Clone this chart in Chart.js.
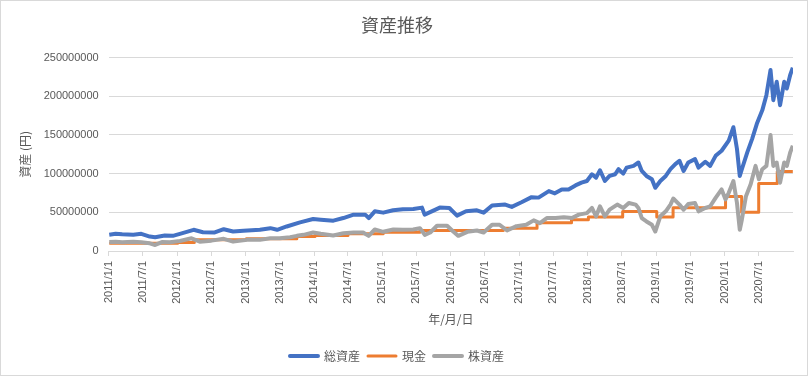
<!DOCTYPE html>
<html>
<head>
<meta charset="utf-8">
<script src="https://cdn.jsdelivr.net/npm/chart.js@4/dist/chart.umd.min.js"></script>
<style>
html, body { margin: 0; padding: 0; background: #fff; }
#wrap { width: 808px; height: 376px; box-sizing: border-box; border: 1px solid #D9D9D9; }
</style>
</head>
<body>
<div id="wrap"><canvas id="assetChart" width="806" height="374"></canvas></div>
<script>
// values are in millions of yen (百万円)
const totalDates = ['2011-01-04','2011-02-07','2011-03-14','2011-05-12','2011-06-24','2011-08-08','2011-09-06','2011-10-27','2011-12-09','2012-01-16','2012-03-29','2012-05-18','2012-07-20','2012-09-06','2012-10-26','2012-12-20','2013-03-18','2013-05-13','2013-06-18','2013-08-08','2013-10-18','2013-12-27','2014-02-06','2014-04-14','2014-06-06','2014-07-31','2014-10-01','2014-10-20','2014-11-21','2015-01-05','2015-02-27','2015-04-20','2015-06-15','2015-07-31','2015-08-14','2015-09-21','2015-11-03','2015-12-24','2016-02-03','2016-03-22','2016-05-19','2016-06-24','2016-08-08','2016-10-17','2016-11-21','2017-01-12','2017-03-07','2017-04-13','2017-06-07','2017-07-09','2017-08-15','2017-09-20','2017-10-27','2017-11-28','2017-12-27','2018-01-23','2018-02-14','2018-03-07','2018-04-02','2018-04-27','2018-05-27','2018-06-14','2018-07-09','2018-07-27','2018-09-02','2018-09-28','2018-10-16','2018-11-10','2018-12-09','2018-12-27','2019-01-23','2019-02-21','2019-03-18','2019-04-13','2019-05-05','2019-05-27','2019-06-21','2019-07-27','2019-08-15','2019-09-20','2019-10-16','2019-11-14','2019-12-16','2020-01-23','2020-02-17','2020-03-07','2020-03-22','2020-04-02','2020-05-01','2020-05-27','2020-06-21','2020-07-20','2020-08-11','2020-09-02','2020-09-17','2020-10-05','2020-10-23','2020-11-14','2020-11-28','2020-12-16','2020-12-30'];
const totalValues = [21,22.2,21.5,21,22.2,18.7,17.8,20,19.6,22.2,27.4,24.3,24,28.2,25.2,26.1,27.4,29.5,27.4,31.7,37,41.3,40.4,39.2,42.6,47,47,42.6,51.3,49.6,52.6,53.9,54.3,56.1,47,51.3,56.1,55.6,45.7,51.3,52.6,49.6,58.7,60,57,63,69.6,69,77.4,74.5,79.5,79.6,84.8,88.3,90.5,99.2,94.8,104.4,90.5,97,99.2,105.7,100,107.8,110,114.4,103.5,97,92.7,81.7,90.5,97,105.7,112.3,116.6,103.5,114.4,118.8,107.8,115.3,110,123,129.6,142.7,160,131.8,97,105.7,127.4,145,164.4,181.8,201.4,234,195,218.8,188.4,218.8,210,227.5,237];

const cashDates = ['2011-01-04','2012-01-04','2012-04-02','2013-01-04','2013-10-01','2014-01-06','2014-07-01','2015-01-05','2015-07-20','2016-10-07','2017-04-05','2017-10-06','2018-01-04','2018-07-06','2019-01-04','2019-04-01','2020-01-06','2020-04-01','2020-07-01','2020-10-08','2020-12-30'];
const cashValues = [10,11,14.4,15.7,18.7,20,22.2,24.3,26.5,29.5,36.5,40.4,43.8,51,43.9,56,70.5,50.2,87.3,102.8,102.8];

const stockDates = ['2011-01-04','2011-02-07','2011-03-14','2011-05-12','2011-06-24','2011-08-08','2011-09-06','2011-10-12','2011-11-24','2012-01-16','2012-03-18','2012-05-01','2012-07-02','2012-09-06','2012-10-26','2013-01-09','2013-03-18','2013-05-12','2013-07-02','2013-08-26','2013-10-01','2013-11-06','2013-12-27','2014-02-06','2014-04-13','2014-06-07','2014-07-31','2014-09-20','2014-10-19','2014-11-21','2015-01-05','2015-02-28','2015-04-20','2015-06-14','2015-07-20','2015-08-15','2015-09-13','2015-10-19','2015-12-12','2016-01-15','2016-02-10','2016-03-29','2016-05-19','2016-06-24','2016-08-08','2016-09-17','2016-10-27','2016-12-16','2017-02-06','2017-03-18','2017-04-20','2017-05-27','2017-07-13','2017-08-26','2017-10-08','2017-11-14','2017-12-27','2018-01-23','2018-02-14','2018-03-07','2018-04-02','2018-04-27','2018-06-07','2018-07-09','2018-08-08','2018-09-13','2018-09-28','2018-10-16','2018-11-10','2018-12-09','2018-12-27','2019-01-23','2019-02-21','2019-03-18','2019-04-02','2019-05-05','2019-05-27','2019-06-21','2019-07-27','2019-08-15','2019-09-20','2019-10-16','2019-11-14','2019-12-16','2020-01-06','2020-01-23','2020-02-17','2020-03-07','2020-03-22','2020-04-02','2020-04-24','2020-05-19','2020-06-14','2020-07-02','2020-07-20','2020-08-11','2020-09-02','2020-09-17','2020-10-05','2020-10-23','2020-11-14','2020-11-28','2020-12-16','2020-12-30'];
const stockValues = [11.7,12,11.2,12,11.2,9.9,7.8,11.5,11.2,13,16.4,12.1,13.4,15.7,12.1,14.4,14.4,16.4,16.4,17.8,19.6,20.9,23.9,22.2,20,23,23.9,23.9,19.6,27.8,24.8,27.8,27.4,27.8,29.5,20.9,23.9,32.6,32.6,24.8,19.6,24.8,26.5,23.9,33.9,33.9,26.5,32.1,33.9,39.6,36,42.6,42.6,43.5,42.6,47,49,55.6,44.8,57.8,44.8,53.5,60,55.6,62.1,60,55.6,42.6,38.2,33.9,25.2,44.8,51.3,60,67.9,60,53.5,60.8,62.1,51.3,55.6,57.8,68.7,79.6,66.6,75.2,90.5,62.1,27.4,40.4,70.9,86.2,110,92.7,105.7,110,150,110,114.4,88.3,114.4,110,127.4,136];

const tickLabels = ['2011/1/1','2011/7/1','2012/1/1','2012/7/1','2013/1/1','2013/7/1','2014/1/1','2014/7/1','2015/1/1','2015/7/1','2016/1/1','2016/7/1','2017/1/1','2017/7/1','2018/1/1','2018/7/1','2019/1/1','2019/7/1','2020/1/1','2020/7/1'];

const seriesNames = ['総資産', '現金', '株資産'];

function toTime(s) {
	let p = s.split(/[-\/]/).map(Number);
	return Date.UTC(p[0], p[1] - 1, p[2]);
}

function points(dates, values) {
	return dates.map((d, i) => ({x: toTime(d), y: values[i] * 1e6}));
}

const textColor = '#595959';
const gridColor = '#D9D9D9';
const numFont = '"Liberation Sans", "Noto Sans CJK JP", sans-serif';
const jpFont = '"Noto Sans CJK JP", "Liberation Sans", sans-serif';

// drawn in reverse order so grey sits on top, legend reversed back
let datasets = [
	{label: seriesNames[2], data: points(stockDates, stockValues), borderColor: '#A5A5A5', backgroundColor: '#A5A5A5', borderWidth: 4},
	{label: seriesNames[1], data: points(cashDates, cashValues), borderColor: '#ED7D31', backgroundColor: '#ED7D31', borderWidth: 3, stepped: true},
	{label: seriesNames[0], data: points(totalDates, totalValues), borderColor: '#4472C4', backgroundColor: '#4472C4', borderWidth: 4}
];
datasets.forEach(d => { d.pointRadius = 0; d.tension = 0; d.fill = false; d.borderJoinStyle = 'round'; });

let ctx = document.querySelector('#assetChart').getContext('2d');
new Chart(ctx, {
	type: 'line',
	data: {datasets: datasets},
	options: {
		responsive: false,
		animation: false,
		layout: {padding: {left: 0, right: 14, top: 0, bottom: 3}},
		plugins: {
			title: {
				display: true,
				text: '資産推移',
				color: textColor,
				font: {family: jpFont, size: 18, weight: 'normal'},
				padding: {top: 13, bottom: 22}
			},
			legend: {
				position: 'bottom',
				reverse: true,
				labels: {
					boxWidth: 28,
					boxHeight: 0,
					padding: 8,
					color: textColor,
					font: {family: jpFont, size: 12}
				}
			},
			tooltip: {enabled: false}
		},
		scales: {
			x: {
				type: 'linear',
				min: toTime('2011/1/1'),
				max: toTime('2020/12/31'),
				afterBuildTicks: s => { s.ticks = tickLabels.map(t => ({value: toTime(t)})); },
				afterFit: s => { s.height = 91; },
				ticks: {
					autoSkip: false,
					minRotation: 90,
					maxRotation: 90,
					padding: 5,
					color: textColor,
					font: {family: numFont, size: 11},
					callback: (v) => {
						let d = new Date(v);
						return d.getUTCFullYear() + '/' + (d.getUTCMonth() + 1) + '/' + d.getUTCDate();
					}
				},
				grid: {drawOnChartArea: false, color: gridColor, tickLength: 5},
				border: {color: gridColor},
				title: {
					display: true,
					text: '年/月/日',
					color: textColor,
					font: {family: jpFont, size: 12},
					padding: {top: 0, bottom: 15}
				}
			},
			y: {
				min: 0,
				max: 250000000,
				afterFit: s => { s.width = 107.7; },
				ticks: {
					stepSize: 50000000,
					padding: 10,
					color: textColor,
					font: {family: numFont, size: 11},
					callback: v => String(v)
				},
				grid: {color: gridColor, drawTicks: false},
				border: {display: false},
				title: {
					display: true,
					text: '資産 (円)',
					color: textColor,
					font: {family: jpFont, size: 12},
					padding: {top: 17, bottom: 0}
				}
			}
		}
	}
});
</script>
</body>
</html>
